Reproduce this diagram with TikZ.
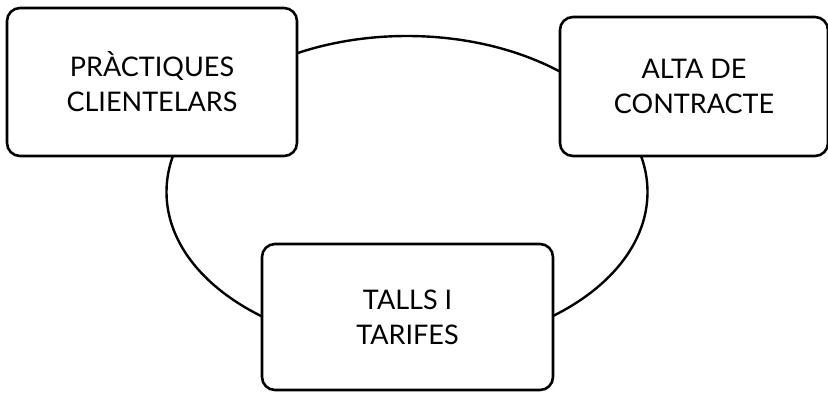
\documentclass[tikz,border=0pt]{standalone}
\usepackage{fontspec}
\setmainfont{Lato}
\usetikzlibrary{positioning}

\begin{document}
\begin{tikzpicture}[x=1pt,y=-1pt,
  card/.style={draw,line width=2.6pt,rounded corners=13pt,fill=white,
    align=center,font=\fontsize{27}{35}\selectfont,inner sep=0pt},
  ring/.style={draw,line width=2.4pt}
]
  \useasboundingbox (0,0) rectangle (828,392);

  % Ring behind the boxes
  \coordinate (hub) at (407,192);
  \draw[ring] (hub) ellipse [x radius=240.5pt,y radius=156pt];

  % Boxes
  \node[card,minimum width=290pt,minimum height=148pt] (practiques) at (152,82)
    {PRÀCTIQUES\\CLIENTELARS};
  \node[card,minimum width=268pt,minimum height=139pt] (alta) at (694,86.5)
    {ALTA DE\\CONTRACTE};
  \node[card,minimum width=291pt,minimum height=146pt] (talls) at (407.5,317)
    {TALLS I\\TARIFES};
\end{tikzpicture}
\end{document}
